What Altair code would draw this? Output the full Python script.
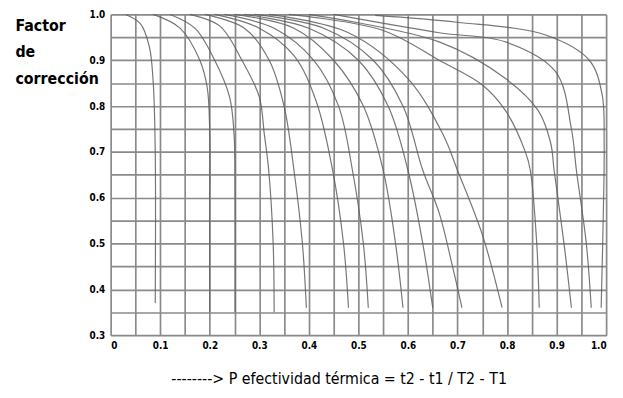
import altair as alt
import pandas as pd

# ---- curve data (P, F) ----
k1_p = [0.03, 0.06, 0.078, 0.086, 0.09, 0.09]
k1_f = [1.0, 0.98, 0.93, 0.85, 0.70, 0.37]
k2_p = [0.086, 0.14, 0.18, 0.195, 0.2, 0.2, 0.2]
k2_f = [1.0, 0.97, 0.90, 0.84, 0.74, 0.55, 0.35]
k3_p = [0.12, 0.17, 0.21, 0.24, 0.249, 0.251, 0.251]
k3_f = [1.0, 0.97, 0.90, 0.82, 0.74, 0.60, 0.35]
k4_p = [0.16, 0.22, 0.265, 0.30, 0.31, 0.319, 0.328, 0.33]
k4_f = [1.0, 0.975, 0.90, 0.82, 0.74, 0.66, 0.50, 0.35]
k5_p = [0.19, 0.27, 0.32, 0.35, 0.37, 0.387, 0.395]
k5_f = [1.0, 0.97, 0.90, 0.80, 0.66, 0.50, 0.36]
k6_p = [0.21, 0.30, 0.37, 0.415, 0.448, 0.47, 0.48]
k6_f = [1.0, 0.97, 0.91, 0.81, 0.66, 0.50, 0.36]
k7_p = [0.23, 0.33, 0.41, 0.46, 0.488, 0.51, 0.52]
k7_f = [1.0, 0.97, 0.90, 0.80, 0.66, 0.50, 0.36]
k8_p = [0.25, 0.37, 0.45, 0.51, 0.55, 0.575, 0.59]
k8_f = [1.0, 0.97, 0.90, 0.80, 0.66, 0.50, 0.36]
k9_p = [0.27, 0.40, 0.50, 0.56, 0.60, 0.63, 0.65]
k9_f = [1.0, 0.97, 0.90, 0.80, 0.66, 0.50, 0.36]
k10_p = [0.29, 0.43, 0.53, 0.59, 0.63, 0.663, 0.69, 0.709]
k10_f = [1.0, 0.97, 0.90, 0.80, 0.66, 0.567, 0.45, 0.36]
k11_p = [0.32, 0.48, 0.60, 0.67, 0.70, 0.75, 0.79]
k11_f = [1.0, 0.96, 0.86, 0.74, 0.66, 0.52, 0.36]
k12_p = [0.36, 0.55, 0.663, 0.749, 0.797, 0.837, 0.847, 0.86, 0.865]
k12_f = [1.0, 0.965, 0.90, 0.847, 0.79, 0.70, 0.66, 0.50, 0.36]
k13_p = [0.40, 0.663, 0.797, 0.863, 0.888, 0.895, 0.915, 0.93]
k13_f = [1.0, 0.94, 0.86, 0.79, 0.72, 0.66, 0.50, 0.36]
k14_p = [0.45, 0.663, 0.797, 0.898, 0.93, 0.94, 0.96, 0.97]
k14_f = [1.0, 0.96, 0.94, 0.875, 0.75, 0.66, 0.50, 0.36]
k15_p = [0.534, 0.699, 0.878, 0.966, 0.992, 0.996, 0.995, 0.99]
k15_f = [0.998, 0.983, 0.955, 0.90, 0.825, 0.72, 0.60, 0.36]

x_ticks = [0, 0.05, 0.1, 0.15, 0.2, 0.25, 0.3, 0.35, 0.4, 0.45, 0.5,
           0.55, 0.6, 0.65, 0.7, 0.75, 0.8, 0.85, 0.9, 0.95, 1.0]
y_ticks = [0.3, 0.35, 0.4, 0.45, 0.5, 0.55, 0.6, 0.65, 0.7, 0.75, 0.8,
           0.85, 0.9, 0.95, 1.0]

curve_lists = [(k1_p, k1_f), (k2_p, k2_f), (k3_p, k3_f), (k4_p, k4_f),
               (k5_p, k5_f), (k6_p, k6_f), (k7_p, k7_f), (k8_p, k8_f),
               (k9_p, k9_f), (k10_p, k10_f), (k11_p, k11_f), (k12_p, k12_f),
               (k13_p, k13_f), (k14_p, k14_f), (k15_p, k15_f)]

rows = []
for i, (ps, fs) in enumerate(curve_lists):
    for j, (p, f) in enumerate(zip(ps, fs)):
        rows.append({"curve": i, "order": j, "P": p, "F": f})
df = pd.DataFrame(rows)

FONT = "'DejaVu Sans Condensed', 'DejaVu Sans', sans-serif"

chart = alt.Chart(df).mark_line(
    color="#5e5e5e", strokeWidth=1.2, interpolate="catmull-rom", opacity=0.85
).encode(
    x=alt.X("P:Q",
            scale=alt.Scale(domain=[0, 1], nice=False, zero=False),
            axis=alt.Axis(
                values=x_ticks,
                labelExpr="round(datum.value*20)%2==0 ? (datum.value==0 ? '0' : format(datum.value,'.1f')) : ''",
                grid=True, gridColor="#8a8a8a", gridWidth=1.7, gridOpacity=1,
                ticks=False, domain=False,
                labelFont=FONT, labelFontSize=10, labelFontWeight="bold",
                labelColor="black", labelPadding=5,
                title="--------> P efectividad térmica = t2 - t1 / T2 - T1",
                titleFont=FONT, titleFontSize=16, titleFontWeight="normal",
                titleColor="black", titleX=231, titleY=44,
                titleBaseline="middle", titleAlign="center")),
    y=alt.Y("F:Q",
            scale=alt.Scale(domain=[0.3, 1.0], nice=False, zero=False),
            axis=alt.Axis(
                values=y_ticks,
                labelExpr="round(datum.value*20)%2==0 ? format(datum.value,'.1f') : ''",
                grid=True, gridColor="#8a8a8a", gridWidth=1.7, gridOpacity=1,
                ticks=False, domain=False,
                labelFont=FONT, labelFontSize=10, labelFontWeight="bold",
                labelColor="black", labelPadding=6,
                title=["Factor", "de", "corrección"],
                titleFont=FONT, titleFontSize=16, titleFontWeight="bold",
                titleColor="black", titleAngle=0, titleAlign="left",
                titleBaseline="top", titleX=-97, titleY=3,
                titleLineHeight=27)),
    detail="curve:N",
    order="order:Q",
).properties(
    width=502, height=325,
    autosize=alt.AutoSizeParams(type="none"),
    padding={"left": 104, "top": 4, "right": 9, "bottom": 53},
).configure_view(
    stroke="#555555", strokeWidth=1.5, fill="#f3f3f3"
).configure(background="white")

chart.save("out.html", embed_options={"renderer": "svg", "actions": False})
